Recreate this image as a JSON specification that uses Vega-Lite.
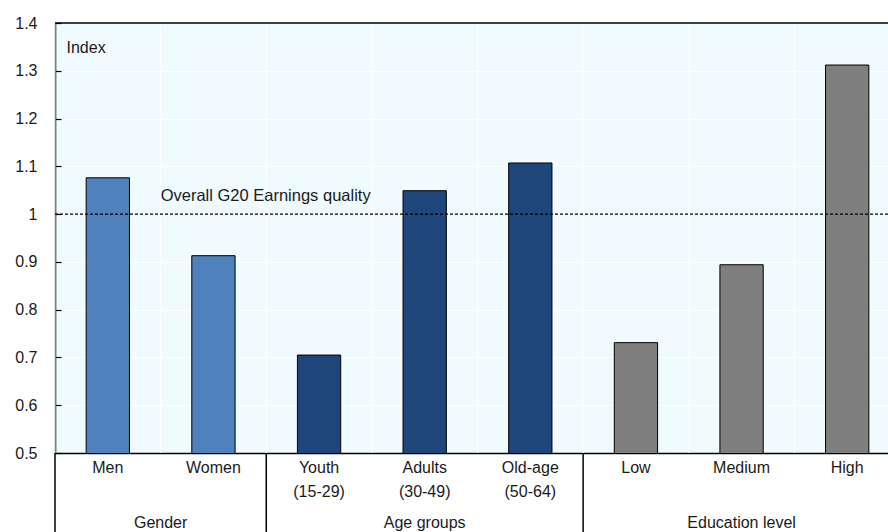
{
  "$schema": "https://vega.github.io/schema/vega-lite/v6.json",
  "width": 833,
  "height": 430,
  "autosize": {"type": "none"},
  "padding": {"left": 55, "top": 23, "right": 0, "bottom": 79},
  "background": "white",
  "config": {
    "view": {"fill": "#f0fbff", "stroke": null},
    "font": "Liberation Sans",
    "axis": {
      "labelFont": "Liberation Sans",
      "labelFontSize": 16,
      "labelColor": "#1a1a1a",
      "titleFont": "Liberation Sans",
      "titleFontSize": 16,
      "titleFontWeight": "normal",
      "titleColor": "#1a1a1a"
    },
    "text": {"font": "Liberation Sans", "fontSize": 16.5, "color": "#1a1a1a"}
  },
  "datasets": {
    "bars": [
      {"category": "Men", "group": "Gender", "value": 1.076},
      {"category": "Women", "group": "Gender", "value": 0.913},
      {"category": "Youth (15-29)", "group": "Age groups", "value": 0.705},
      {"category": "Adults (30-49)", "group": "Age groups", "value": 1.049},
      {"category": "Old-age (50-64)", "group": "Age groups", "value": 1.107},
      {"category": "Low", "group": "Education level", "value": 0.731},
      {"category": "Medium", "group": "Education level", "value": 0.894},
      {"category": "High", "group": "Education level", "value": 1.312}
    ],
    "groups": [
      {"group": "Gender", "first": "Men", "center": "Women"},
      {"group": "Age groups", "first": "Youth (15-29)", "center": "Adults (30-49)"},
      {"group": "Education level", "first": "Low", "center": "Medium"}
    ],
    "reference": [
      {"label": "Overall G20 Earnings quality", "level": 1, "top": 1.4}
    ]
  },
  "layer": [
    {
      "data": {"name": "bars"},
      "mark": {"type": "rule", "color": "#ffffff", "strokeWidth": 1},
      "encoding": {
        "x": {"field": "category", "type": "nominal", "sort": null, "bandPosition": 0, "title": null}
      }
    },
    {
      "data": {"name": "bars"},
      "mark": {"type": "bar", "width": {"band": 0.41}, "stroke": "#000000", "strokeWidth": 1, "clip": true},
      "encoding": {
        "x": {
          "field": "category",
          "type": "nominal",
          "sort": null,
          "title": null,
          "scale": {
            "domain": ["Men", "Women", "Youth (15-29)", "Adults (30-49)", "Old-age (50-64)", "Low", "Medium", "High"],
            "range": [0, 845],
            "paddingInner": 0,
            "paddingOuter": 0
          },
          "axis": {
            "labelExpr": "split(datum.label, ' ')",
            "labelAngle": 0,
            "labelAlign": "center",
            "ticks": false,
            "domainColor": "#000000",
            "domainWidth": 1.5,
            "grid": false,
            "labelPadding": 6,
            "labelLineHeight": 24,
            "labelBaseline": "top"
          }
        },
        "y": {
          "field": "value",
          "type": "quantitative",
          "title": "Index",
          "scale": {"domain": [0.5, 1.4], "nice": false, "zero": false},
          "axis": {
            "values": [0.5, 0.6, 0.7, 0.8, 0.9, 1, 1.1, 1.2, 1.3, 1.4],
            "format": "~g",
            "tickSize": -6,
            "tickColor": "#000000",
            "tickWidth": 1.2,
            "domainColor": "#000000",
            "domainWidth": 1.5,
            "labelPadding": 24,
            "grid": true,
            "gridColor": "#ffffff",
            "gridWidth": 1,
            "titleAngle": 0,
            "titleAlign": "left",
            "titleBaseline": "middle",
            "titleX": 11,
            "titleY": 24
          }
        },
        "color": {
          "field": "group",
          "type": "nominal",
          "scale": {"domain": ["Gender", "Age groups", "Education level"], "range": ["#4f81bd", "#1f467a", "#7f7f7f"]},
          "legend": null
        }
      }
    },
    {
      "data": {"name": "reference"},
      "mark": {"type": "rule", "color": "#000000", "strokeWidth": 1.2, "strokeDash": [3, 2]},
      "encoding": {"y": {"field": "level", "type": "quantitative"}}
    },
    {
      "data": {"name": "reference"},
      "mark": {"type": "text", "align": "left", "baseline": "middle", "dx": 0, "dy": -18},
      "encoding": {
        "x": {"datum": "Men", "bandPosition": 1},
        "y": {"field": "level", "type": "quantitative"},
        "text": {"field": "label"}
      }
    },
    {
      "data": {"name": "reference"},
      "mark": {"type": "rule", "color": "#000000", "strokeWidth": 1.5},
      "encoding": {"y": {"field": "top", "type": "quantitative"}}
    },
    {
      "data": {"name": "groups"},
      "mark": {"type": "rule", "color": "#000000", "strokeWidth": 1.5},
      "encoding": {
        "x": {"field": "first", "type": "nominal", "bandPosition": 0, "title": null},
        "y": {"datum": 0.5},
        "y2": {"datum": 0.3}
      }
    },
    {
      "data": {"name": "groups"},
      "transform": [{"filter": "datum.group == 'Gender'"}],
      "mark": {"type": "text", "align": "center", "baseline": "middle", "dy": 70, "fontSize": 16},
      "encoding": {
        "x": {"field": "center", "type": "nominal", "bandPosition": 0, "title": null},
        "y": {"datum": 0.5},
        "text": {"field": "group"}
      }
    },
    {
      "data": {"name": "groups"},
      "transform": [{"filter": "datum.group != 'Gender'"}],
      "mark": {"type": "text", "align": "center", "baseline": "middle", "dy": 70, "fontSize": 16},
      "encoding": {
        "x": {"field": "center", "type": "nominal", "bandPosition": 0.5, "title": null},
        "y": {"datum": 0.5},
        "text": {"field": "group"}
      }
    }
  ]
}
